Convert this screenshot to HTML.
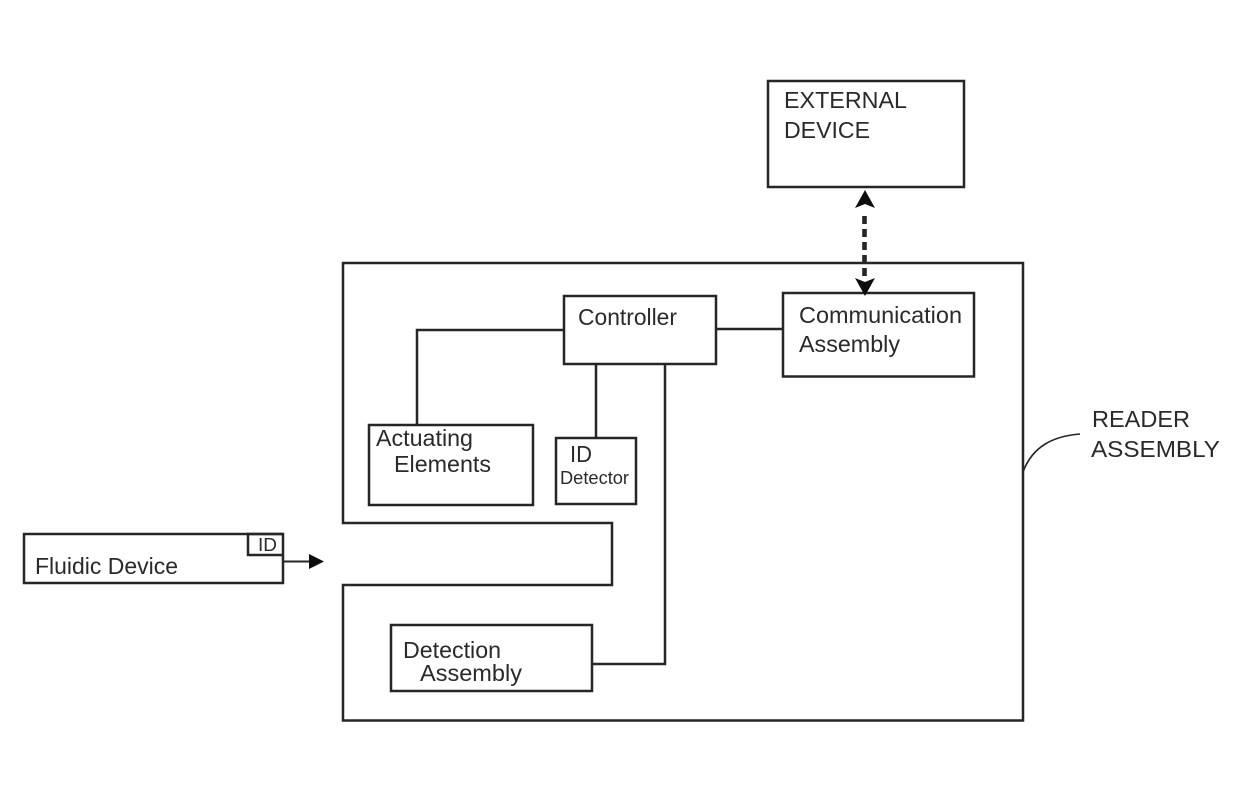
<!DOCTYPE html>
<html>
<head>
<meta charset="utf-8">
<style>
html,body{margin:0;padding:0;background:#fff;width:1240px;height:809px;overflow:hidden}
svg{display:block}
text{font-family:"Liberation Sans",sans-serif;fill:#2a2a2a}
</style>
</head>
<body>
<svg width="1240" height="809" viewBox="0 0 1240 809" xmlns="http://www.w3.org/2000/svg">
<defs><filter id="b" x="-5%" y="-5%" width="110%" height="110%"><feGaussianBlur stdDeviation="0.35"/></filter></defs>
<g filter="url(#b)">
<g fill="none" stroke="#262626" stroke-width="2.5">
<rect x="768" y="81" width="196" height="106"/>
<path d="M343 523V263H1023V720.5H343V585H612V523Z"/>
<rect x="564" y="296" width="152" height="68"/>
<rect x="783" y="293" width="191" height="83.5"/>
<rect x="369" y="425" width="164" height="80"/>
<rect x="556" y="438" width="80" height="66"/>
<rect x="391" y="625" width="201" height="66"/>
<rect x="24" y="534" width="259" height="49"/>
<path d="M283 534H248V555H283"/>
<path d="M417 425V330H564M716 329H783M596 364V438M665 364V664H592"/>
<path d="M283 561.5H312" stroke-width="2"/>
<path d="M1080 434C1055 436 1033 445 1023 472" stroke-width="1.6"/>
<path d="M864.5 216V278" stroke-width="4.6" stroke-dasharray="8 5"/>
</g>
<g fill="#111">
<path d="M865 190L875 208L865 204L855 208Z"/>
<path d="M865 296L875 278L865 282L855 278Z"/>
<path d="M324 561.5L309 554V569Z"/>
</g>
<g font-size="23">
<text x="784" y="108" textLength="123" lengthAdjust="spacingAndGlyphs">EXTERNAL</text>
<text x="784" y="138" textLength="86" lengthAdjust="spacingAndGlyphs">DEVICE</text>
<text x="578" y="325" textLength="99" lengthAdjust="spacingAndGlyphs">Controller</text>
<text x="799" y="323" textLength="163" lengthAdjust="spacingAndGlyphs">Communication</text>
<text x="799" y="352" textLength="101" lengthAdjust="spacingAndGlyphs">Assembly</text>
<text x="376" y="446" textLength="97" lengthAdjust="spacingAndGlyphs">Actuating</text>
<text x="394" y="472" textLength="97" lengthAdjust="spacingAndGlyphs">Elements</text>
<text x="570" y="462" textLength="22" lengthAdjust="spacingAndGlyphs">ID</text>
<text x="560" y="484" font-size="18" textLength="69" lengthAdjust="spacingAndGlyphs">Detector</text>
<text x="403" y="658" textLength="98" lengthAdjust="spacingAndGlyphs">Detection</text>
<text x="420" y="681" textLength="102" lengthAdjust="spacingAndGlyphs">Assembly</text>
<text x="35" y="574" textLength="143" lengthAdjust="spacingAndGlyphs">Fluidic Device</text>
<text x="258" y="551" font-size="18" textLength="19" lengthAdjust="spacingAndGlyphs">ID</text>
<text x="1092" y="427" textLength="98" lengthAdjust="spacingAndGlyphs">READER</text>
<text x="1091" y="457" textLength="129" lengthAdjust="spacingAndGlyphs">ASSEMBLY</text>
</g>
</g>
</svg>
</body>
</html>
